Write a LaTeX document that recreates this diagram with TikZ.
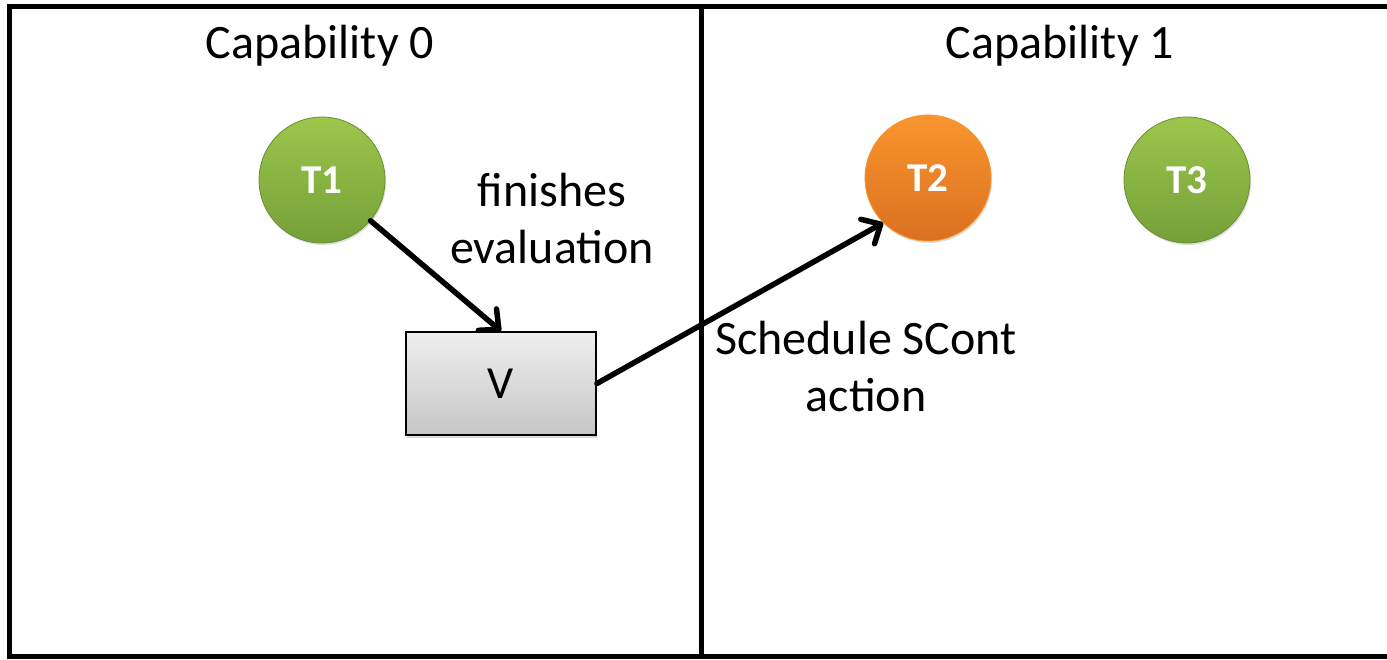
\documentclass[tikz,border=0pt]{standalone}
\usepackage{fontspec}
\setmainfont{Carlito}
\usetikzlibrary{arrows.meta,shadows}
\definecolor{greentop}{HTML}{9DC64B}
\definecolor{greenbot}{HTML}{74A039}
\definecolor{orangetop}{HTML}{F9952F}
\definecolor{orangebot}{HTML}{DA7120}
\definecolor{boxtop}{HTML}{EFEFEF}
\definecolor{boxbot}{HTML}{C6C6C6}
\tikzset{
  frame/.style={line width=5pt, line cap=rect},
  thread/.style={circle, minimum size=126pt, inner sep=0pt,
    font=\fontsize{41}{41}\selectfont\bfseries, text=white,
    drop shadow={shadow xshift=1pt, shadow yshift=-2pt, opacity=0.25}},
  greenthread/.style={thread, draw=greenbot!90!black, line width=0.8pt,
    top color=greentop, bottom color=greenbot},
  orangethread/.style={thread, draw=orangetop, line width=0.8pt,
    top color=orangetop, bottom color=orangebot},
  valuebox/.style={draw=black, line width=1.8pt, minimum width=190pt,
    minimum height=103pt, top color=boxtop, bottom color=boxbot,
    font=\fontsize{46}{46}\selectfont,
    drop shadow={shadow xshift=1pt, shadow yshift=-3pt, opacity=0.3}},
  label/.style={font=\fontsize{48}{57}\selectfont, align=center},
  flow/.style={line width=5.5pt, line cap=round,
    -{Straight Barb[length=15pt, width=28pt, line width=5.5pt, round]}}
}
\begin{document}
\begin{tikzpicture}[x=1pt, y=-1pt]
  \useasboundingbox (0,0) rectangle (1387,659);
  \fill[white] (0,0) rectangle (1387,659);

  % two capability panes
  \draw[frame] (1400,6.5) -- (9.5,6.5) -- (9.5,656.5) -- (1400,656.5);
  \draw[frame] (701.5,6.5) -- (701.5,656.5);

  \node[label] (cap0) at (320,46) {Capability 0};
  \node[label] (cap1) at (1060,46) {Capability 1};

  \node[greenthread] (t1) at (322,180) {T1};
  \node[orangethread] (t2) at (928,178) {T2};
  \node[greenthread] (t3) at (1187,180) {T3};

  \node[valuebox] (v) at (501,383.5) {V};

  \node[label] (fin) at (552,219) {finishes\\evaluation};
  \node[label] (sched) at (866,367) {Schedule SCont\\action};

  \draw[flow] (t1.-40) -- (v.north);
  \draw[flow] (v.east) -- (t2.-135);
\end{tikzpicture}
\end{document}
